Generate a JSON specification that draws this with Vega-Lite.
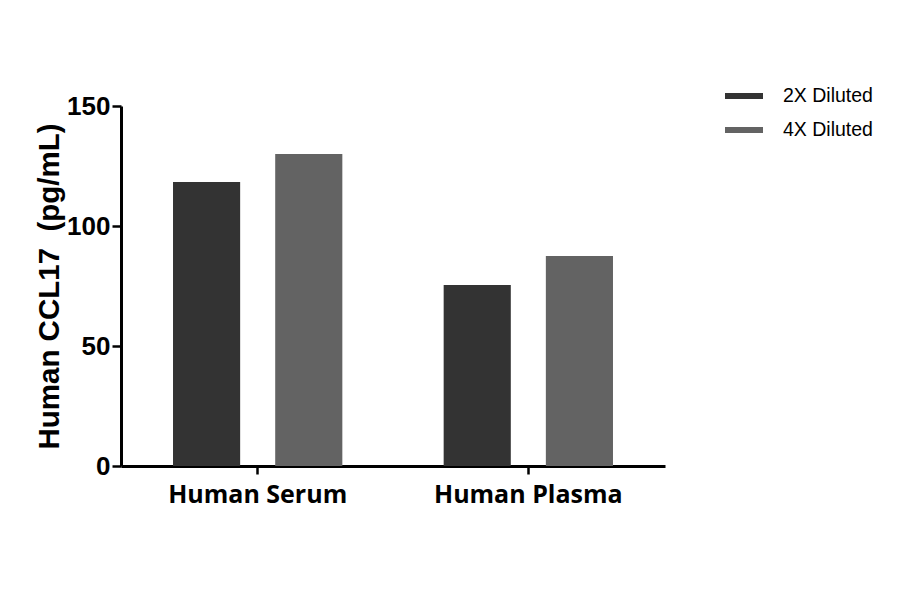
{
  "$schema": "https://vega.github.io/schema/vega-lite/v6.json",
  "width": 544,
  "height": 360,
  "autosize": "none",
  "padding": {"left": 121, "top": 106, "right": 235, "bottom": 128},
  "background": "white",
  "config": {
    "view": {"stroke": null},
    "font": "Open Sans"
  },
  "data": {
    "values": [
      {"sample": "Human Serum", "dilution": "2X Diluted", "value": 118.3},
      {"sample": "Human Serum", "dilution": "4X Diluted", "value": 130.0},
      {"sample": "Human Plasma", "dilution": "2X Diluted", "value": 75.4},
      {"sample": "Human Plasma", "dilution": "4X Diluted", "value": 87.5}
    ]
  },
  "mark": {"type": "bar"},
  "encoding": {
    "x": {
      "field": "sample",
      "type": "nominal",
      "sort": ["Human Serum", "Human Plasma"],
      "scale": {"paddingInner": 0.246, "paddingOuter": 0.128},
      "axis": {
        "title": null,
        "labelAngle": 0,
        "labelLimit": 0,
        "labelFont": "Open Sans",
        "labelFontWeight": "bold",
        "labelFontSize": 25,
        "labelColor": "black",
        "labelPadding": 8,
        "domainColor": "black",
        "domainWidth": 3,
        "tickColor": "black",
        "tickWidth": 2.5,
        "tickSize": 8
      }
    },
    "xOffset": {
      "field": "dilution",
      "type": "nominal",
      "scale": {"paddingInner": 0.343, "paddingOuter": 0.17}
    },
    "y": {
      "field": "value",
      "type": "quantitative",
      "scale": {"domain": [0, 150], "nice": false},
      "axis": {
        "title": "Human CCL17\u00a0\u00a0(pg/mL)",
        "titleFont": "Liberation Sans",
        "titleFontWeight": "bold",
        "titleFontSize": 29.5,
        "titleColor": "black",
        "titlePadding": 2,
        "values": [0, 50, 100, 150],
        "grid": false,
        "labelFont": "Liberation Sans",
        "labelFontWeight": "bold",
        "labelFontSize": 26,
        "labelColor": "black",
        "labelPadding": 2,
        "domainColor": "black",
        "domainWidth": 3,
        "tickColor": "black",
        "tickWidth": 2.5,
        "tickSize": 9
      }
    },
    "color": {
      "field": "dilution",
      "type": "nominal",
      "scale": {"domain": ["2X Diluted", "4X Diluted"], "range": ["#333333", "#636363"]},
      "legend": {
        "title": null,
        "orient": "none",
        "legendX": 604,
        "legendY": -29,
        "padding": 0,
        "symbolType": "M-1,-0.16H1V0.16H-1Z",
        "symbolSize": 1444,
        "symbolStrokeWidth": 0,
        "labelFont": "Liberation Sans",
        "labelFontSize": 19.5,
        "labelColor": "black",
        "labelOffset": 20,
        "rowPadding": 5
      }
    }
  }
}
